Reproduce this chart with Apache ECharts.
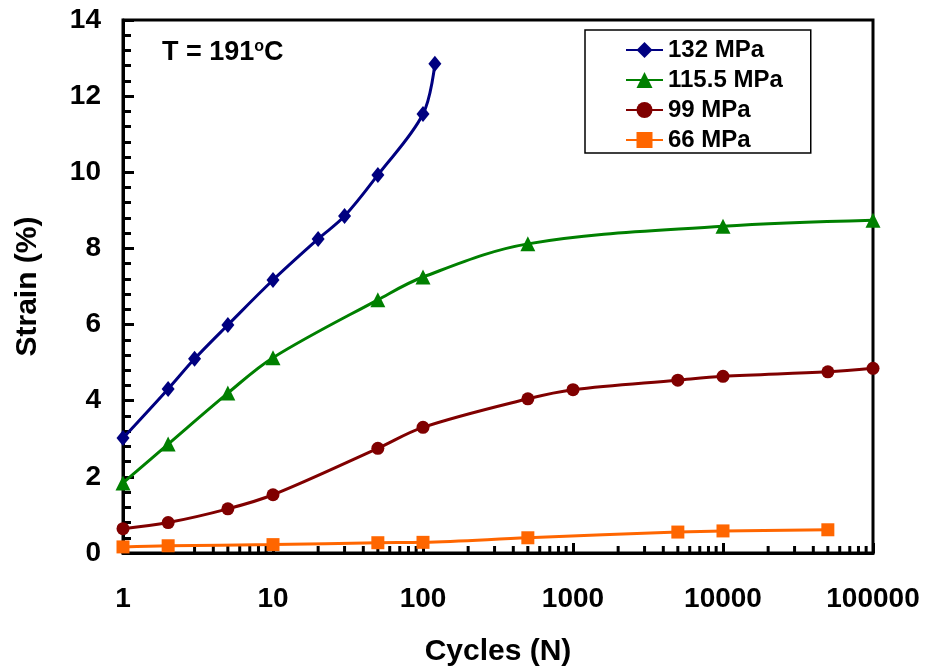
<!DOCTYPE html>
<html>
<head>
<meta charset="utf-8">
<script src="https://cdn.jsdelivr.net/npm/echarts@6/dist/echarts.min.js"></script>
<style>html,body{margin:0;padding:0;background:#fff;}#c{width:925px;height:669px;}</style>
</head>
<body>
<div id="c"></div>
<script>
// Data
const seriesNames = ['132 MPa', '115.5 MPa', '99 MPa', '66 MPa'];
const cycles132 = [1, 2, 3, 5, 10, 20, 30, 50, 100, 120];
const strain132 = [3.02, 4.31, 5.1, 5.99, 7.17, 8.25, 8.85, 9.93, 11.53, 12.85];
const cycles115 = [1, 2, 5, 10, 50, 100, 500, 10000, 100000];
const strain115 = [1.84, 2.86, 4.2, 5.13, 6.65, 7.25, 8.12, 8.58, 8.74];
const cycles99 = [1, 2, 5, 10, 50, 100, 500, 1000, 5000, 10000, 50000, 100000];
const strain99 = [0.64, 0.8, 1.16, 1.53, 2.75, 3.3, 4.05, 4.29, 4.54, 4.64, 4.76, 4.85];
const cycles66 = [1, 2, 10, 50, 100, 500, 5000, 10000, 50000];
const strain66 = [0.16, 0.19, 0.22, 0.27, 0.28, 0.4, 0.55, 0.58, 0.61];
const xTickLabels = ['1', '10', '100', '1000', '10000', '100000'];
const yTickLabels = ['0', '2', '4', '6', '8', '10', '12', '14'];
const xMinorTicks = [];
[1, 10, 100, 1000, 10000].forEach(d => { for (let m = 2; m <= 9; m++) xMinorTicks.push(m * d); });

const colors = ['#000080', '#008000', '#800000', '#FF6600'];
const symbols = ['diamond', 'triangle', 'circle', 'rect'];
const symbolSizes = [[13, 16], 15, 13, 13];
const xs = [cycles132, cycles115, cycles99, cycles66];
const ys = [strain132, strain115, strain99, strain66];
const FONT = '"Liberation Sans", Arial, sans-serif';

const chart = echarts.init(document.getElementById('c'), null, {renderer: 'canvas'});
const lineSeries = seriesNames.map((n, i) => ({
  name: n,
  type: 'line',
  smooth: 0.35,
  data: xs[i].map((x, j) => [x, ys[i][j]]),
  symbol: symbols[i],
  symbolSize: symbolSizes[i],
  showAllSymbol: true,
  lineStyle: {color: colors[i], width: 3},
  itemStyle: {color: colors[i]},
  z: 3 + i
}));

chart.setOption({
  animation: false,
  backgroundColor: '#fff',
  color: colors,
  title: {
    left: 157, top: 34,
    text: '{a|T = 191}{b|o}{a|C}',
    textStyle: {
      rich: {
        a: {fontFamily: FONT, fontWeight: 'bold', fontSize: 27, color: '#000'},
        b: {fontFamily: FONT, fontWeight: 'bold', fontSize: 16, color: '#000', verticalAlign: 'top', padding: [0, 0, 12, 0]}
      }
    }
  },
  legend: {
    data: seriesNames,
    orient: 'vertical',
    left: 585, top: 30,
    padding: [8, 28, 1, 40],
    itemWidth: 37, itemHeight: 20, itemGap: 6,
    borderColor: '#000', borderWidth: 1.5,
    backgroundColor: '#fff',
    textStyle: {fontFamily: FONT, fontWeight: 'bold', fontSize: 24, lineHeight: 20, color: '#000', padding: [0, 0, 0, 0]}
  },
  grid: {left: 123, right: 52, top: 20, bottom: 116, show: true, borderColor: '#000', borderWidth: 3, containLabel: false, outerBoundsMode: 'none'},
  xAxis: {
    type: 'log', logBase: 10, min: 1, max: 100000,
    name: 'Cycles (N)', nameLocation: 'middle', nameGap: 84,
    nameTextStyle: {fontFamily: FONT, fontWeight: 'bold', fontSize: 30, color: '#000'},
    axisLine: {show: true, lineStyle: {color: '#000', width: 3}},
    axisTick: {show: true, inside: true, length: 10, lineStyle: {color: '#000', width: 3}},
    minorTick: {show: false},
    splitLine: {show: false},
    axisLabel: {
      margin: 32, fontFamily: FONT, fontWeight: 'bold', fontSize: 28, color: '#000',
      formatter: v => { const k = Math.round(Math.log10(v)); return xTickLabels[k] !== undefined ? xTickLabels[k] : ''; }
    }
  },
  yAxis: {
    type: 'value', min: 0, max: 14, interval: 2,
    name: 'Strain (%)', nameLocation: 'middle', nameGap: 80, nameRotate: 90,
    nameTextStyle: {fontFamily: FONT, fontWeight: 'bold', fontSize: 30, color: '#000'},
    axisLine: {show: true, lineStyle: {color: '#000', width: 3}},
    axisTick: {show: true, inside: true, length: 11, lineStyle: {color: '#000', width: 3}},
    minorTick: {show: true, splitNumber: 5, length: 8, lineStyle: {color: '#000', width: 3}},
    splitLine: {show: false},
    axisLabel: {
      margin: 22, fontFamily: FONT, fontWeight: 'bold', fontSize: 28, color: '#000',
      formatter: v => yTickLabels[Math.round(v / 2)]
    }
  },
  series: lineSeries.concat([{
    type: 'custom',
    silent: true,
    z: 2,
    data: xMinorTicks.map(v => [v, 0]),
    renderItem: (params, api) => {
      const p = api.coord([api.value(0), 0]);
      return {type: 'line', shape: {x1: p[0], y1: p[1], x2: p[0], y2: p[1] - 7}, style: {stroke: '#000', lineWidth: 3}};
    }
  }])
});
</script>
</body>
</html>
